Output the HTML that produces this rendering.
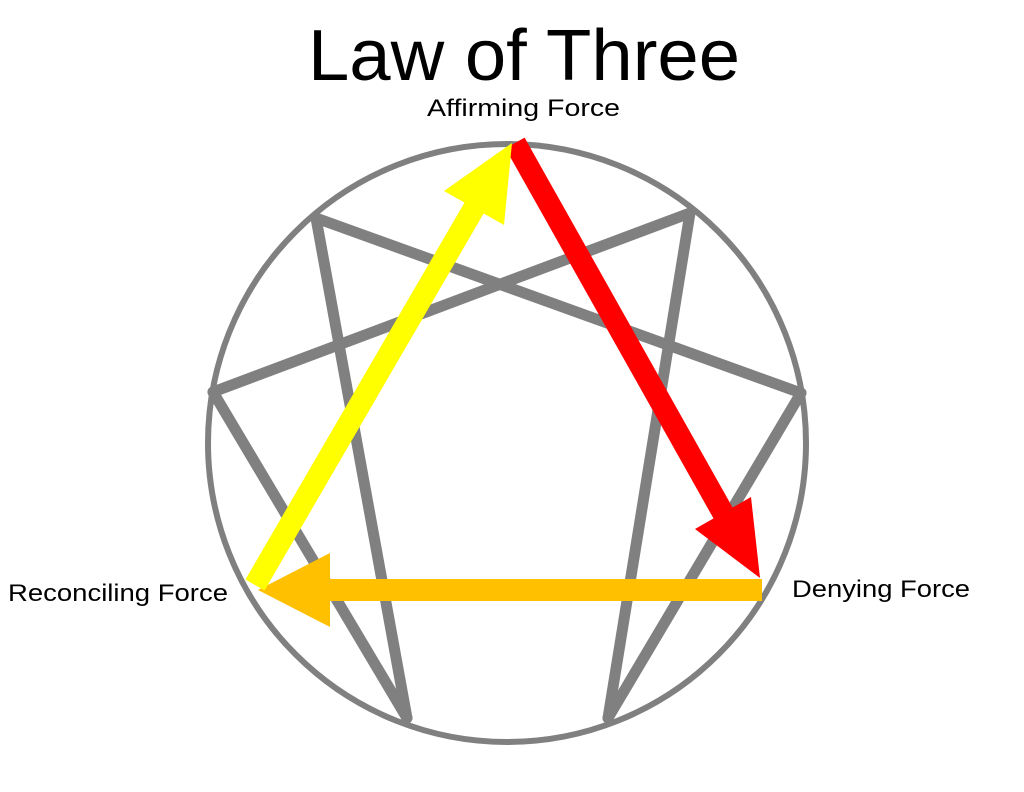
<!DOCTYPE html>
<html><head><style>
html,body{margin:0;padding:0;background:#fff;}
body{width:1024px;height:787px;overflow:hidden;}
</style></head><body>
<svg width="1024" height="787" viewBox="0 0 1024 787" xmlns="http://www.w3.org/2000/svg">
<rect width="1024" height="787" fill="#fff"/>
<text x="308" y="80" font-family="Liberation Sans, sans-serif" font-size="72" textLength="432" lengthAdjust="spacingAndGlyphs" fill="#000">Law of Three</text>
<text x="427" y="116" font-family="Liberation Sans, sans-serif" font-size="24" textLength="193" lengthAdjust="spacingAndGlyphs" fill="#000">Affirming Force</text>
<text x="8" y="601" font-family="Liberation Sans, sans-serif" font-size="24" textLength="220" lengthAdjust="spacingAndGlyphs" fill="#000">Reconciling Force</text>
<text x="792" y="597" font-family="Liberation Sans, sans-serif" font-size="24" textLength="178" lengthAdjust="spacingAndGlyphs" fill="#000">Denying Force</text>
<circle cx="507" cy="443" r="299" fill="none" stroke="#808080" stroke-width="6"/>
<g stroke="#808080" stroke-width="11" stroke-linecap="round" fill="none">
<line x1="690" y1="213" x2="608" y2="718"/>
<line x1="608" y1="718" x2="801" y2="393"/>
<line x1="801" y1="393" x2="316" y2="218"/>
<line x1="316" y1="218" x2="407" y2="718"/>
<line x1="407" y1="718" x2="213" y2="392"/>
<line x1="213" y1="392" x2="690" y2="213"/>
</g>
<line x1="762" y1="590" x2="325" y2="590" stroke="#ffc000" stroke-width="22"/>
<polygon points="258,590 330,553 330,627" fill="#ffc000"/>
<line x1="515" y1="143" x2="727" y2="520" stroke="#ff0000" stroke-width="22"/>
<polygon points="760,578 751,497 695,529" fill="#ff0000"/>
<line x1="255" y1="585" x2="477" y2="203" stroke="#ffff00" stroke-width="22"/>
<polygon points="512,143 504,225 444,191" fill="#ffff00"/>
</svg>
</body></html>
